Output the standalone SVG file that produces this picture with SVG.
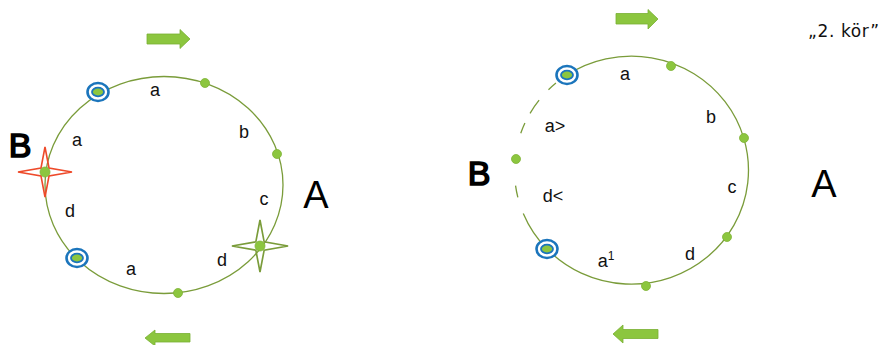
<svg xmlns="http://www.w3.org/2000/svg" width="887" height="345" viewBox="0 0 887 345">
<style>
.ring{fill:none;stroke:#7a9c3a;stroke-width:1.3}
.dot{fill:#8cc63f;stroke:#7fb236;stroke-width:0.8}
.lbl{font-family:"Liberation Sans",Arial,sans-serif;font-size:18px;fill:#111;text-anchor:middle}
.big{font-family:"Liberation Sans",Arial,sans-serif;font-size:38px;fill:#000;text-anchor:middle}
.bigb{font-family:"Liberation Sans",Arial,sans-serif;font-size:34px;fill:#000;stroke:#000;stroke-width:1.6;text-anchor:middle}
.arrow{fill:#8cc63f;stroke:#79b032;stroke-width:0.8}
.tgt-o{fill:#fff;stroke:#1b75bc;stroke-width:2.6}
.tgt-i{fill:#8cc63f;stroke:#1b75bc;stroke-width:1.8}
.title{font-family:"DejaVu Sans",sans-serif;font-size:17px;fill:#111}
</style>
<defs>
<g id="target"><ellipse class="tgt-o" cx="0" cy="0" rx="10.5" ry="9"/><ellipse class="tgt-i" cx="0" cy="0" rx="6" ry="4.3"/></g>
<path id="star" d="M-27,0 L-4,-4 L0,-25 L4,-4 L27,0 L4,4 L0,25 L-4,4 Z"/>
</defs>
<rect width="887" height="345" fill="#fff"/>
<g id="connectors">
<ellipse id="ring-left" class="ring" cx="164" cy="185" rx="119" ry="108.5"/>
<path id="ring-right-solid" class="ring" d="M567,75 A117,114 0 1 1 547,249"/>
<path id="ring-right-dashed" class="ring" d="M547,249 A117,114 0 0 1 567,75" stroke-dasharray="43 17 12 53 11 11 16 14 10 14"/>
</g>
<g id="arrows">
<path id="arrow-top-left" class="arrow" d="M147,34 L180,34 L180,29.5 L190,39 L180,48.5 L180,44 L147,44 Z"/>
<path id="arrow-bottom-left" class="arrow" d="M190,333.5 L155,333.5 L155,330 L145,338 L155,346 L155,342 L190,342 Z"/>
<path id="arrow-top-right" class="arrow" d="M616,13.5 L648,13.5 L648,9.5 L658,19 L648,29 L648,24 L616,24 Z"/>
<path id="arrow-bottom-right" class="arrow" d="M658,329.5 L623,329.5 L623,325 L613,334 L623,343 L623,338.5 L658,338.5 Z"/>
</g>
<g id="node-left-B-star"><use href="#star" transform="translate(45,172)" fill="none" stroke="#ee4a2a" stroke-width="1.6"/><circle class="dot" cx="45" cy="172" r="5"/></g>
<g id="node-left-A-star"><use href="#star" transform="translate(260,246) scale(1.04)" fill="none" stroke="#7a9c3a" stroke-width="1.6"/><circle class="dot" cx="260" cy="246" r="5"/></g>
<g id="node-left-t1"><use href="#target" transform="translate(98,92)"/></g>
<g id="node-left-t2"><use href="#target" transform="translate(77,258)"/></g>
<g id="node-left-p1"><circle class="dot" cx="205" cy="83" r="4.5"/></g>
<g id="node-left-p2"><circle class="dot" cx="277" cy="154" r="4.5"/></g>
<g id="node-left-p3"><circle class="dot" cx="178" cy="293" r="4.5"/></g>
<g id="node-right-t1"><use href="#target" transform="translate(567,75)"/></g>
<g id="node-right-t2"><use href="#target" transform="translate(547,249)"/></g>
<g id="node-right-p1"><circle class="dot" cx="671" cy="66" r="4.5"/></g>
<g id="node-right-p2"><circle class="dot" cx="744" cy="138" r="4.5"/></g>
<g id="node-right-p3"><circle class="dot" cx="727" cy="237" r="4.5"/></g>
<g id="node-right-p4"><circle class="dot" cx="646" cy="286" r="4.5"/></g>
<g id="node-right-p5"><circle class="dot" cx="516" cy="159" r="4.5"/></g>
<g id="labels-left">
<text class="bigb" x="20" y="157">B</text>
<text class="big" x="316" y="208">A</text>
<text class="lbl" x="155" y="96">a</text>
<text class="lbl" x="244" y="138">b</text>
<text class="lbl" x="264" y="205">c</text>
<text class="lbl" x="222" y="266">d</text>
<text class="lbl" x="131" y="275">a</text>
<text class="lbl" x="70" y="216.5">d</text>
<text class="lbl" x="77" y="146">a</text>
</g>
<g id="labels-right">
<text class="bigb" x="479" y="185">B</text>
<text class="big" x="824" y="196.5">A</text>
<text class="lbl" x="625" y="80">a</text>
<text class="lbl" x="711" y="123">b</text>
<text class="lbl" x="732" y="193">c</text>
<text class="lbl" x="690" y="260">d</text>
<text class="lbl" x="606" y="267">a<tspan font-size="12" dy="-7">1</tspan></text>
<text class="lbl" x="555" y="132">a&gt;</text>
<text class="lbl" x="553" y="202">d&lt;</text>
<text class="title" x="808" y="37" textLength="71">„2. kör”</text>
</g>
</svg>
